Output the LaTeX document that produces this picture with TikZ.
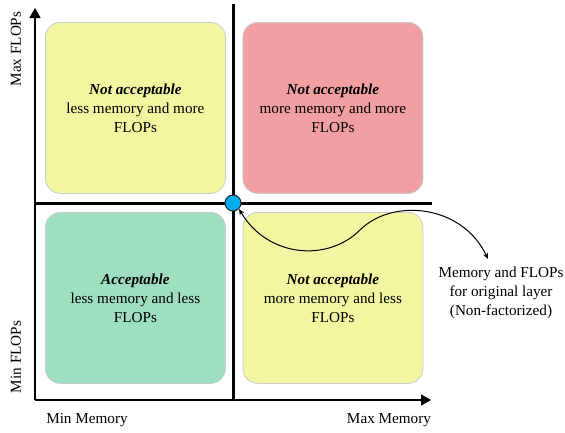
\documentclass[tikz,border=0pt]{standalone}
\usepackage{fontspec}
\setmainfont{Liberation Serif}
\usetikzlibrary{arrows.meta}
\definecolor{qyellow}{HTML}{F3F6A1}
\definecolor{qpink}{HTML}{F29FA3}
\definecolor{qgreen}{HTML}{9FDFC1}
\definecolor{qedge}{HTML}{C8CCCC}
\definecolor{qdot}{HTML}{00AEEF}
\begin{document}
\begin{tikzpicture}[x=1pt,y=-1pt,
  quad/.style={draw=qedge, line width=0.8pt, rounded corners=15pt, minimum width=180pt, minimum height=171pt,
    align=center, font=\fontsize{15.2}{19}\selectfont, inner sep=0pt, anchor=north west},
  axis/.style={line width=1.3pt, -{Triangle[length=10pt,width=11pt]}},
  divider/.style={line width=3pt},
  lbl/.style={font=\fontsize{15.2}{19}\selectfont, inner sep=0pt, align=center},
  conn/.style={line width=1pt, {Stealth[length=6pt,width=5pt]}-{Stealth[length=6pt,width=5pt]}}]
\useasboundingbox (0,0) rectangle (565,432);
% quadrant boxes
\node[quad, fill=qyellow] (tl) at (45,22) {\textbf{\textit{Not acceptable}}\\less memory and more\\FLOPs};
\node[quad, fill=qpink] (tr) at (242.5,22) {\textbf{\textit{Not acceptable}}\\more memory and more\\FLOPs};
\node[quad, fill=qgreen] (bl) at (45,212) {\textbf{\textit{Acceptable}}\\less memory and less\\FLOPs};
\node[quad, fill=qyellow] (br) at (242.5,212) {\textbf{\textit{Not acceptable}}\\more memory and less\\FLOPs};
% axes
\coordinate (origin) at (35,400);
\coordinate (ytip) at (35,8);
\coordinate (xtip) at (431,400);
\draw[axis] (origin) -- (ytip);
\draw[axis] (origin) -- (xtip);
% dividers
\coordinate (vtop) at (233,4);
\coordinate (vbot) at (233,400);
\coordinate (hleft) at (34,203);
\coordinate (hright) at (432,203);
\draw[divider] (vtop) -- (vbot);
\draw[divider] (hleft) -- (hright);
% centre point
\node[circle, fill=qdot, draw=black!85, line width=1pt, minimum size=16pt, inner sep=0pt] (pt) at (233,203) {};
% axis labels
\node[lbl, rotate=90] (maxf) at (16,49) {Max FLOPs};
\node[lbl, rotate=90] (minf) at (16,357) {Min FLOPs};
\node[lbl] (minm) at (87,420) {Min Memory};
\node[lbl] (maxm) at (389,420) {Max Memory};
% side label
\node[lbl] (orig) at (501,293) {Memory and FLOPs\\for original layer\\(Non-factorized)};
\coordinate (cend) at (488,259);
\draw[conn] (pt.-45) .. controls (268,258) and (328,262) .. (360,230) .. controls (392,198) and (462,204) .. (cend);
\end{tikzpicture}
\end{document}
